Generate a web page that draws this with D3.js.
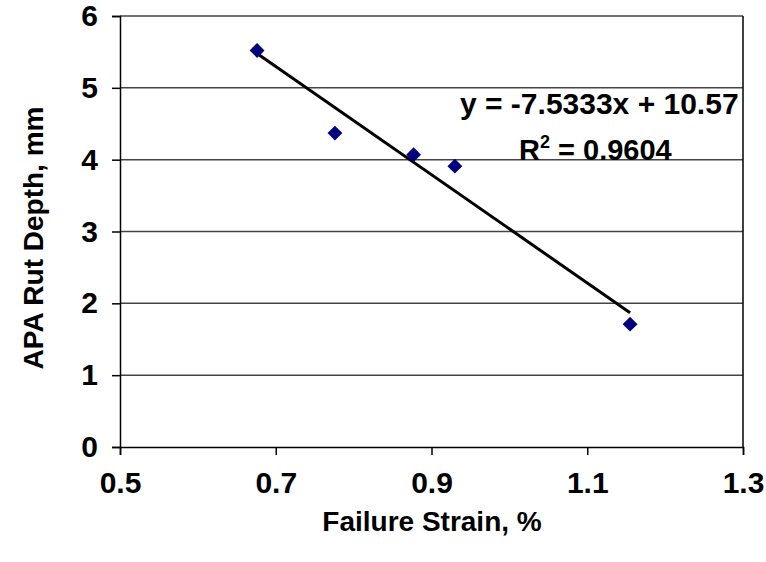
<!DOCTYPE html>
<html>
<head>
<meta charset="utf-8">
<script src="https://cdn.jsdelivr.net/npm/d3@7"></script>
<style>
  body { margin: 0; background: #fff; }
  text { font-family: "Liberation Sans", Arial, sans-serif; font-weight: bold; fill: #000; }
</style>
</head>
<body>
<svg id="chart" width="766" height="562"></svg>
<script>
// data
const strain = [0.676, 0.776, 0.877, 0.930, 1.155];
const rutDepth = [5.52, 4.37, 4.07, 3.91, 1.71];
const xTicks = [0.5, 0.7, 0.9, 1.1, 1.3];
const yTicks = [0, 1, 2, 3, 4, 5, 6];
const slope = -7.5333, intercept = 10.57;
const eqText = "y = -7.5333x + 10.57";
const r2Text = "0.9604";

const margin = { top: 16, right: 23, bottom: 115, left: 120 },
  width = 766 - margin.left - margin.right,
  height = 562 - margin.top - margin.bottom;

const x = d3.scaleLinear().domain([0.5, 1.3]).range([0, width]);
const y = d3.scaleLinear().domain([0, 6]).range([height, 0]);

const svg = d3.select("#chart")
  .append("g")
  .attr("transform", "translate(" + margin.left + "," + margin.top + ")");

// horizontal gridlines
svg.selectAll(".grid")
  .data(yTicks.filter(d => d > 0))
  .enter().append("line")
  .attr("class", "grid")
  .attr("x1", 0).attr("x2", width)
  .attr("y1", d => y(d)).attr("y2", d => y(d))
  .attr("stroke", "#444").attr("stroke-width", 1.5);

// right border
svg.append("line")
  .attr("x1", width).attr("x2", width)
  .attr("y1", 0).attr("y2", height)
  .attr("stroke", "#000").attr("stroke-width", 1.5);

// axes
const xAxis = svg.append("g")
  .attr("transform", "translate(0," + height + ")")
  .call(d3.axisBottom(x).tickValues(xTicks).tickSize(8).tickPadding(17).tickFormat(d3.format(".1f")));
const yAxis = svg.append("g")
  .call(d3.axisLeft(y).tickValues(yTicks).tickSize(8).tickPadding(14).tickFormat(d3.format("d")));

[xAxis, yAxis].forEach(g => {
  g.attr("font-family", null).attr("font-size", null);
  g.select(".domain").attr("stroke", "#000").attr("stroke-width", 1.5);
  g.selectAll(".tick line").attr("stroke", "#000").attr("stroke-width", 1.5);
  g.selectAll("text").style("font-size", "30px");
});

// trendline
const xs = d3.extent(strain);
svg.append("line")
  .attr("x1", x(xs[0])).attr("y1", y(slope * xs[0] + intercept))
  .attr("x2", x(xs[1])).attr("y2", y(slope * xs[1] + intercept))
  .attr("stroke", "#000").attr("stroke-width", 3);

// points
svg.selectAll(".pt")
  .data(strain)
  .enter().append("path")
  .attr("class", "pt")
  .attr("d", d3.symbol().type(d3.symbolSquare).size(110))
  .attr("transform", (d, i) => "translate(" + x(d) + "," + y(rutDepth[i]) + ") rotate(45)")
  .attr("fill", "#000080");

// equation labels
svg.append("text")
  .attr("x", 340).attr("y", 98)
  .style("font-size", "30px")
  .text(eqText);
const r2 = svg.append("text")
  .attr("x", 399).attr("y", 144)
  .style("font-size", "29px");
r2.append("tspan").text("R");
r2.append("tspan").attr("dy", -12).style("font-size", "18px").text("2");
r2.append("tspan").attr("dy", 12).text(" = " + r2Text);

// axis titles
d3.select("#chart").append("text")
  .attr("x", 432).attr("y", 531)
  .attr("text-anchor", "middle")
  .style("font-size", "28px")
  .text("Failure Strain, %");
d3.select("#chart").append("text")
  .attr("transform", "translate(43,238) rotate(-90)")
  .attr("text-anchor", "middle")
  .style("font-size", "28px")
  .text("APA Rut Depth, mm");
</script>
</body>
</html>
